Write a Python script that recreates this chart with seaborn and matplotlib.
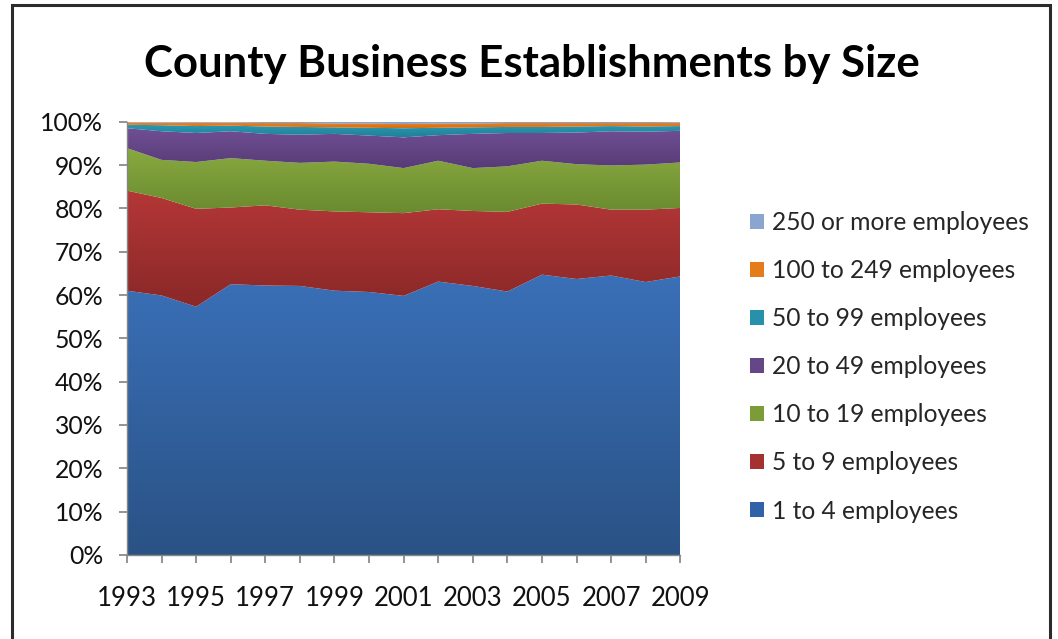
import matplotlib
matplotlib.use("Agg")
import matplotlib.pyplot as plt
import numpy as np
import seaborn as sns
from matplotlib.colors import LinearSegmentedColormap
from matplotlib.patches import Patch, Rectangle
from matplotlib.ticker import PercentFormatter

years = list(range(1993, 2010))

size_classes = [
    "1 to 4 employees",
    "5 to 9 employees",
    "10 to 19 employees",
    "20 to 49 employees",
    "50 to 99 employees",
    "100 to 249 employees",
    "250 or more employees",
]

# share of establishments (%) per size class
emp_1_4 = [61.0, 59.9, 57.3, 62.5, 62.2, 62.1, 61.0, 60.7, 59.8, 63.1, 62.1, 60.8, 64.7, 63.7, 64.5, 63.0, 64.3]
emp_5_9 = [23.1, 22.5, 22.6, 17.7, 18.5, 17.6, 18.3, 18.4, 19.1, 16.7, 17.3, 18.4, 16.4, 17.2, 15.2, 16.7, 15.8]
emp_10_19 = [9.8, 8.8, 10.8, 11.4, 10.3, 10.8, 11.5, 11.2, 10.4, 11.2, 9.9, 10.5, 9.9, 9.3, 10.2, 10.4, 10.5]
emp_20_49 = [4.6, 6.6, 6.7, 6.2, 6.2, 6.5, 6.4, 6.5, 7.1, 5.9, 7.9, 7.7, 6.4, 7.3, 7.9, 7.6, 7.3]
emp_50_99 = [0.8, 1.4, 1.6, 1.3, 1.7, 1.8, 1.5, 1.8, 2.1, 1.7, 1.5, 1.4, 1.4, 1.4, 1.2, 1.2, 1.1]
emp_100_249 = [0.55, 0.6, 0.75, 0.7, 0.8, 0.9, 0.9, 1.0, 1.0, 1.0, 0.9, 0.9, 0.9, 0.8, 0.7, 0.8, 0.75]
emp_250_plus = [0.15, 0.2, 0.25, 0.2, 0.3, 0.3, 0.4, 0.4, 0.5, 0.4, 0.4, 0.3, 0.3, 0.3, 0.3, 0.3, 0.25]

# (top, bottom) gradient colours, Excel 2007 look
colors_top = ["#3A70B8", "#B53737", "#88AA40", "#704F94", "#2C9AB5", "#EE8524", "#94AED6"]
colors_bottom = ["#2A5285", "#8A2828", "#6A8A2F", "#573B76", "#217F98", "#D26D12", "#7A95C0"]
legend_colors = ["#2F62A6", "#A53131", "#7C9C38", "#654687", "#2790AA", "#E57C1C", "#8AA5CF"]

sns.set_theme(style="white")
plt.rcParams["font.family"] = ["Lato", "DejaVu Sans"]

values = np.array([emp_1_4, emp_5_9, emp_10_19, emp_20_49, emp_50_99, emp_100_249, emp_250_plus])
values = values / values.sum(axis=0) * 100

fig = plt.figure(figsize=(10.58, 6.39), dpi=100)
ax = fig.add_axes([0.120, 0.1315, 0.523, 0.678])

polys = ax.stackplot(years, values, colors=legend_colors, linewidth=0)

# vertical gradient inside each band, clipped to the band outline
cum = np.vstack([np.zeros(len(years)), np.cumsum(values, axis=0)])
grad = np.linspace(0, 1, 256).reshape(-1, 1)
for i, poly in enumerate(polys):
    y0 = cum[i].min()
    y1 = cum[i + 1].max()
    cmap = LinearSegmentedColormap.from_list(f"g{i}", [colors_bottom[i], colors_top[i]])
    im = ax.imshow(grad, cmap=cmap, aspect="auto", origin="lower",
                   extent=[years[0], years[-1], y0, y1], zorder=poly.get_zorder())
    im.set_clip_path(poly.get_paths()[0], transform=ax.transData)
    poly.set_facecolor("none")

ax.set_xlim(years[0], years[-1])
ax.set_ylim(0, 100)

ax.set_xticks(years)
ax.set_xticklabels([str(y) if (y - years[0]) % 2 == 0 else "" for y in years])
ax.set_yticks(np.arange(0, 101, 10))
ax.yaxis.set_major_formatter(PercentFormatter(decimals=0))

for side in ["top", "right"]:
    ax.spines[side].set_visible(False)
for side in ["left", "bottom"]:
    ax.spines[side].set_color("#868686")
    ax.spines[side].set_linewidth(1)

ax.tick_params(axis="x", direction="out", length=6, color="#868686", bottom=True,
               labelsize=18.5, pad=16, labelcolor="#111111")
ax.tick_params(axis="y", direction="out", length=6, color="#868686", left=True,
               labelsize=17.8, pad=11, labelcolor="#111111")

fig.text(0.503, 0.900, "County Business Establishments by Size",
         ha="center", va="center", fontsize=31.5, fontweight="bold", color="black")

handles = [Patch(facecolor=c, edgecolor="none") for c in legend_colors]
fig.legend(handles[::-1], size_classes[::-1], loc="upper left",
           bbox_to_anchor=(0.700, 0.685), frameon=False, fontsize=17.7,
           handlelength=0.56, handleheight=0.56, handletextpad=0.3,
           labelspacing=1.02, borderaxespad=0)

# outer chart frame
fig.add_artist(Rectangle((0.0113, -0.05), 0.981, 1.042, transform=fig.transFigure,
                         fill=False, edgecolor="#2b2b2b", linewidth=2.2, clip_on=False))

fig.savefig("out.png", dpi=100, facecolor="white")
